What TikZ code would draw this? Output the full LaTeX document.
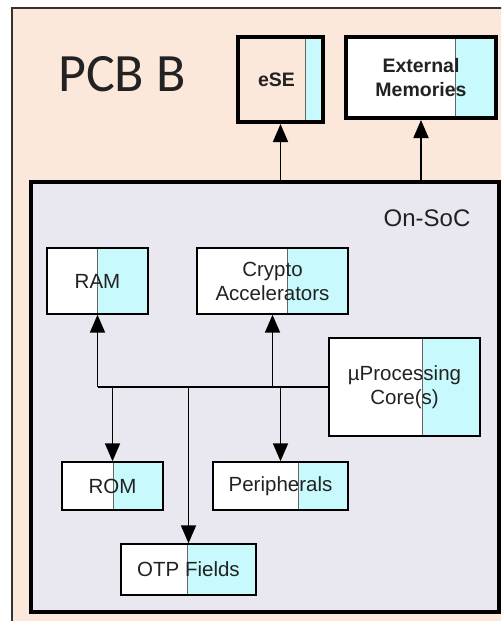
\documentclass[tikz,border=0pt]{standalone}
\usepackage{fontspec}
\setmainfont{Liberation Sans}
\newfontfamily\pcbfont{Carlito}
\usetikzlibrary{calc,arrows.meta}
\definecolor{peach}{HTML}{FCE8DB}
\definecolor{socfill}{HTML}{E9E7EF}
\definecolor{cyanc}{HTML}{C8F9FC}
\definecolor{txt}{HTML}{222222}
\tikzset{
  box/.style={draw=black, line width=1.4pt, fill=white, text=txt, align=center, inner sep=0pt,
    font=\fontsize{20.5}{24}\selectfont},
  thickbox/.style={box, line width=4pt, font=\bfseries\fontsize{19.5}{24}\selectfont},
  split/.style={path picture={
    \fill[cyanc] ($(path picture bounding box.south west)!#1!(path picture bounding box.south east)$)
      rectangle (path picture bounding box.north east);
    \draw[gray!80!black, line width=1pt] ($(path picture bounding box.south west)!#1!(path picture bounding box.south east)$)
      -- ($(path picture bounding box.north west)!#1!(path picture bounding box.north east)$);
  }},
  arr/.style={line width=1.8pt, -{Triangle[length=18pt,width=15pt]}},
  bus/.style={line width=1.8pt},
}
\begin{document}
\begin{tikzpicture}[x=1pt,y=-1pt]
\useasboundingbox (0,0) rectangle (501,621);
\clip (0,0) rectangle (501,621);
\fill[white] (0,0) rectangle (501,621);
% PCB
\node[draw=black!80, line width=1.5pt, fill=peach, minimum width=510pt, minimum height=630pt, anchor=north west, inner sep=0pt] (pcb) at (11,7) {};
\node[text=txt, font=\pcbfont\fontsize{54}{54}\selectfont, anchor=base] (pcbl) at (122,91) {PCB B};
% SoC
\node[draw=black, line width=4pt, fill=socfill, minimum width=468pt, minimum height=430pt, anchor=north west, inner sep=0pt] (soc) at (29,180) {};
\node[text=txt, font=\fontsize{24}{24}\selectfont, anchor=base] (socl) at (427,226) {On-SoC};
% external boxes
\node[thickbox, fill=peach, split=0.79, minimum width=85pt, minimum height=85pt] (ese) at (280.5,79.5) {eSE\hspace*{8pt}};
\node[thickbox, split=0.73, minimum width=150pt, minimum height=81pt] (ext) at (421,77.5) {External\\Memories};
% internal boxes
\node[box, split=0.5, minimum width=101pt, minimum height=66pt] (ram) at (97.5,281) {RAM};
\node[box, split=0.6, minimum width=151pt, minimum height=66pt] (crypto) at (272.5,281) {Crypto\\Accelerators};
\node[box, split=0.616, minimum width=151pt, minimum height=98pt] (up) at (404.5,387) {µProcessing\\Core(s)};
\node[box, split=0.505, minimum width=101pt, minimum height=48pt] (rom) at (112.5,486) {ROM};
\node[box, split=0.63, minimum width=135pt, minimum height=48pt] (per) at (280.5,486) {Peripherals};
\node[box, split=0.496, minimum width=135pt, minimum height=51pt] (otp) at (188.5,569.5) {OTP Fields};
% connectors
\coordinate (busl) at (ram.south |- up.west);
\draw[bus] (up.west) -- (busl);
\draw[arr] (busl) -- (ram.south);
\draw[arr] (crypto.south |- up.west) -- (crypto.south);
\draw[arr] (rom.north |- up.west) -- (rom.north);
\draw[arr] (otp.north |- up.west) -- (otp.north);
\draw[arr] (per.north |- up.west) -- (per.north);
\draw[arr] (ese.south |- soc.north) -- (ese.south);
\draw[arr] (ext.south |- soc.north) -- (ext.south);
\end{tikzpicture}
\end{document}
